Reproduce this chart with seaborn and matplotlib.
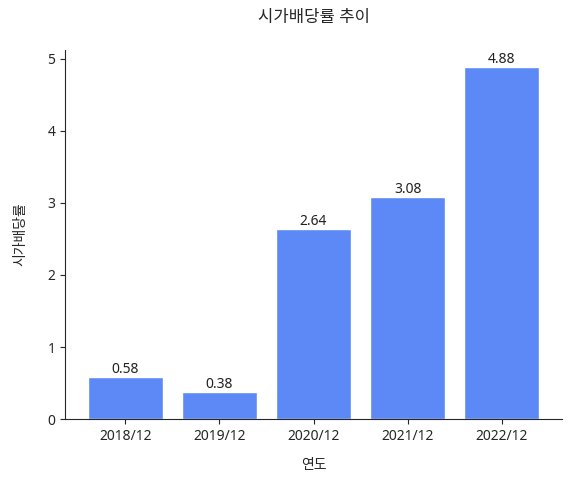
import matplotlib
matplotlib.use('Agg')
import matplotlib.pyplot as plt
import seaborn as sns
import pandas as pd

years = ['2018/12', '2019/12', '2020/12', '2021/12', '2022/12']
yields = [0.58, 0.38, 2.64, 3.08, 4.88]

sns.set_style('ticks')
plt.rcParams['font.family'] = ['Noto Sans', 'Noto Sans CJK KR', 'DejaVu Sans']

df = pd.DataFrame({'연도': years, '시가배당률': yields})

fig, ax = plt.subplots(figsize=(5.7, 4.79), dpi=100)
sns.barplot(x='연도', y='시가배당률', data=df, color='#5C89F6', saturation=1,
            width=0.8, errorbar=None, ax=ax)

# value labels on top of the bars
for p, v in zip(ax.patches, yields):
    ax.annotate(f'{v:.2f}', (p.get_x() + p.get_width() / 2., p.get_height()),
                ha='center', va='bottom', fontsize=10, color='#222222')

ax.set_xlim(-0.64, 4.64)
ax.set_ylim(0, 5.124)
ax.set_title('시가배당률 추이', pad=20, fontsize=12)
ax.set_xlabel('연도', labelpad=10)
ax.set_ylabel('시가배당률', labelpad=14)
sns.despine(ax=ax)

plt.subplots_adjust(left=0.114, right=0.986, top=0.896, bottom=0.125)
plt.savefig('out.png', dpi=100)
